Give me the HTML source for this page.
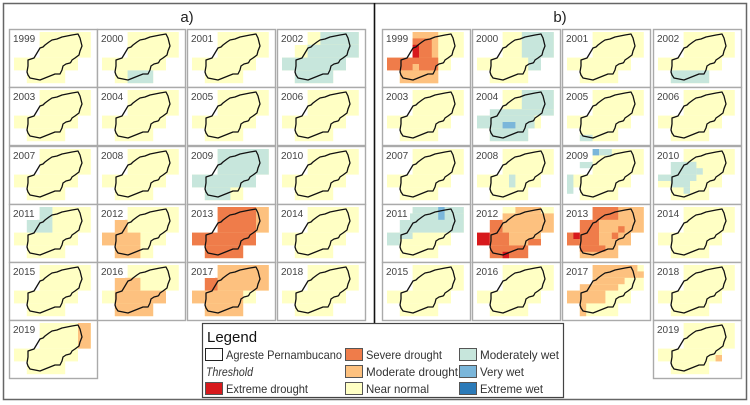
<!DOCTYPE html>
<html><head><meta charset="utf-8">
<style>
html,body{margin:0;padding:0;background:#fff;}
svg{display:block;font-family:"Liberation Sans",sans-serif;}
</style></head>
<body>
<svg id="fig" width="750" height="405" viewBox="0 0 750 405" xmlns="http://www.w3.org/2000/svg">
  <rect x="0" y="0" width="750" height="405" fill="#fff"/>
  <rect x="3.5" y="3.5" width="743" height="396" fill="none" stroke="#666" stroke-width="1.5"/>
  <line x1="374.5" y1="3" x2="374.5" y2="323" stroke="#111" stroke-width="1.6"/>
  <text x="187" y="22" font-size="15" text-anchor="middle" fill="#222">a)</text>
  <text x="560" y="22" font-size="15" text-anchor="middle" fill="#222">b)</text>
  <g id="maps"></g>
  <g id="legend">
    <rect x="202.5" y="323.5" width="361" height="74" fill="#fff" stroke="#444" stroke-width="1.2"/>
    <text x="207" y="342" font-size="15" fill="#111">Legend</text>
  </g>
</svg>
<script>
// class colours
const classCodes = ['n','m','s','e','w','v','x'];
const classColors = {n:'#ffffc4', m:'#fdc17f', s:'#ef7c4a', e:'#d7191c', w:'#c7e6dc', v:'#7ab6da', x:'#2b7ab8'};
const classNames = {n:'Near normal', m:'Moderate drought', s:'Severe drought', e:'Extreme drought', w:'Moderately wet', v:'Very wet', x:'Extreme wet'};

// panel years
const yearsA = [1999,2000,2001,2002,2003,2004,2005,2006,2007,2008,2009,2010,2011,2012,2013,2014,2015,2016,2017,2018,2019];
const yearsB = yearsA;

// base near-normal mask in fine grid units [col,row,w,h]
const baseMask = [[4,0,8,4],[0,4,10,2],[2,6,6,2]];

// overlays per year: [class, col, row, w, h]
const overlaysA = {
  2000:[['w',4,6,4,2]],
  2002:[['n',2,2,2,2],['w',6,0,6,2],['w',4,2,8,2],['w',0,4,10,2],['w',2,6,6,2]],
  2009:[['w',4,0,8,4],['w',0,4,10,2],['w',2,6,4,2]],
  2011:[['w',4,0,2,2],['w',2,2,4,2]],
  2012:[['m',2,2,2,2],['m',0,4,6,2],['m',2,6,4,2]],
  2013:[['s',4,0,6,4],['m',10,0,2,4],['s',0,4,10,2],['s',2,6,6,2]],
  2016:[['m',2,2,4,2],['m',2,4,8,2],['m',2,6,6,2]],
  2017:[['m',4,0,8,4],['s',2,2,2,2],['m',0,4,8,2],['m',2,6,6,2]],
  2019:[['m',10,0,2,4]]
};
const overlaysB = {
  1999:[['m',4,0,4,8],['m',2,6,6,2],['s',0,4,8,2],['s',4,1,3,3],['m',4,5,1,1],['e',4,2,1,2]],
  2000:[['w',7,0,5,4],['w',8,4,2,2]],
  2002:[['w',2,6,6,2]],
  2004:[['w',7,0,5,3],['w',2,3,10,1],['w',0,4,9,2],['w',2,6,6,2],['v',4,5,2,1]],
  2005:[['w',2,7,2,1]],
  2008:[['w',5,4,1,2]],
  2009:[['w',5,0,2,1],['v',4,0,1,1],['w',2,2,2,1],['w',0,4,1,3]],
  2010:[['w',2,2,4,2],['w',0,4,6,1],['w',2,5,3,1],['w',6,3,1,1],['w',4,6,1,1]],
  2011:[['w',4,0,8,1],['w',2,1,10,3],['w',0,4,4,1],['w',0,5,2,1],['v',8,0,1,2]],
  2012:[['m',6,0,4,1],['m',4,1,8,3],['m',4,4,6,2],['s',2,2,2,2],['s',2,4,3,2],['e',0,4,2,2],['s',2,6,6,2],['s',8,5,2,1],['e',4,7,1,1]],
  2013:[['m',4,0,8,4],['m',0,4,10,2],['m',2,6,6,2],['s',4,0,4,2],['s',2,2,3,4],['s',0,4,2,2],['e',1,4,1,1],['s',2,6,4,1],['s',8,3,1,1],['s',7,4,1,1]],
  2017:[['m',4,0,7,2],['m',11,1,1,1],['m',4,2,5,1],['m',2,3,6,1],['m',0,4,6,2],['m',2,6,1,2]],
  2019:[['m',9,5,1,1]]
};

// region outline (relative to cell origin)
const outline = [[69,5],[71,9],[73,17],[71,22],[70,26],[66,29],[63,31],[62,33],[61,34],[57,35],[54,37],[53,41],[51,45],[46,45],[41,47],[36,49],[31,51],[26,50],[21,49],[19,46],[18,43],[19,37],[19,31],[22,30],[25,29],[28,24],[31,19],[34,18],[36,16],[40,13],[43,11],[48,10],[53,8],[58,7],[63,6]];

const NS='http://www.w3.org/2000/svg';
const maps=document.getElementById('maps');
const colXA=[9,97,187,277], colXB=[382,472,562,653];
const rowY=[29,87,146,204,262,320];
const CW=88, CH=58, U=6.4, GX=5, GY=3;

function mk(tag,attrs,parent){const e=document.createElementNS(NS,tag);for(const k in attrs)e.setAttribute(k,attrs[k]);parent.appendChild(e);return e;}

function drawPanel(panel, year, idx, overlays){
  let cx, cy;
  if(idx<20){ cx=(panel==='a'?colXA:colXB)[idx%4]; cy=rowY[Math.floor(idx/4)]; }
  else { cx=(panel==='a'?colXA[0]:colXB[3]); cy=rowY[5]; }
  const g=mk('g',{transform:`translate(${cx},${cy})`},maps);
  
  
  mk('rect',{x:0.5,y:0.5,width:CW,height:CH,fill:'#fff',stroke:'#aaa','stroke-width':1.4},g);
  baseMask.forEach(b=>{
    mk('rect',{x:GX+b[0]*U,y:GY+b[1]*U,width:b[2]*U,height:b[3]*U,fill:classColors.n},g);
  });
  (overlays[year]||[]).forEach(o=>{
    const r=mk('rect',{x:GX+o[1]*U,y:GY+o[2]*U,width:o[3]*U,height:o[4]*U,fill:classColors[o[0]]},g);
    
    
  });
  const p=mk('polygon',{points:outline.map(q=>q.join(',')).join(' '),fill:'none',stroke:'#111','stroke-width':1.3,'stroke-linejoin':'round'},g);
  
  
  mk('rect',{x:2,y:3,width:26,height:13,fill:'#fff'},g);
  const t=mk('text',{x:4,y:13,'font-size':10,fill:'#444'},g);
  t.textContent=year;
  
  
}
yearsA.forEach((y,i)=>drawPanel('a',y,i,overlaysA));
yearsB.forEach((y,i)=>drawPanel('b',y,i,overlaysB));

// legend entries: [class, x, y, label, label width]
const leg=document.getElementById('legend');
const legendItems=[
  ['outline',205,348,'Agreste Pernambucano',116],
  ['e',205,382,'Extreme drought',82],
  ['s',345,348,'Severe drought',76],
  ['m',345,365,'Moderate drought',92],
  ['n',345,382,'Near normal',63],
  ['w',459,348,'Moderately wet',79],
  ['v',459,365,'Very wet',44],
  ['x',459,382,'Extreme wet',63]
];
legendItems.forEach(it=>{
  const g=mk('g',{},leg);
  
  
  mk('rect',{x:it[1]+0.5,y:it[2]+0.5,width:17,height:12,fill:it[0]==='outline'?'#fff':classColors[it[0]],stroke:it[0]==='outline'?'#222':'#555','stroke-width':1},g);
  const t=mk('text',{x:it[1]+21,y:it[2]+11,'font-size':12,fill:'#333',textLength:it[4],lengthAdjust:'spacingAndGlyphs'},g);
  t.textContent=it[3];
});
const th=mk('text',{x:206,y:376,'font-size':12,'font-style':'italic',fill:'#333',textLength:47,lengthAdjust:'spacingAndGlyphs'},leg);
th.textContent='Threshold';


</script>
</body></html>
